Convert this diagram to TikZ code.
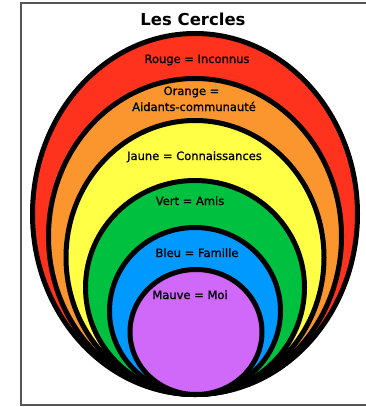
\documentclass[tikz,border=0pt]{standalone}
\usepackage{fontspec}
\setmainfont{DejaVu Sans}
\newfontfamily\lblfont[FakeBold=1.2]{DejaVu Sans}
\begin{document}
\begin{tikzpicture}[x=1pt,y=-1pt,
  ring/.style={draw=black,line width=5pt},
  lbl/.style={anchor=base,inner sep=0pt,font=\lblfont\fontsize{11.5}{13}\selectfont,text=black},
  ttl/.style={anchor=base,inner sep=0pt,font=\fontsize{16.5}{20}\selectfont\bfseries}]
\definecolor{cred}{RGB}{255,50,30}
\definecolor{corange}{RGB}{250,150,45}
\definecolor{cyellow}{RGB}{255,255,70}
\definecolor{cgreen}{RGB}{0,192,64}
\definecolor{cblue}{RGB}{0,153,255}
\definecolor{cmauve}{RGB}{208,104,250}
\definecolor{cframe}{RGB}{85,85,85}
\useasboundingbox (0,0) rectangle (366,407);
\fill[white] (0,0) rectangle (366,407);
\draw[cframe,line width=1.3pt] (375,3) -- (21,3) -- (21,405) -- (375,405);
\path[ring,fill=cred] (195,214) ellipse [x radius=162.5,y radius=180.5];
\path[ring,fill=corange] (195,236.5) ellipse [x radius=146.5,y radius=158];
\path[ring,fill=cyellow] (195,257.5) ellipse [x radius=129,y radius=137];
\path[ring,fill=cgreen] (195,287.5) ellipse [x radius=109.5,y radius=107];
\path[ring,fill=cblue] (195,311) ellipse [x radius=85.5,y radius=83.5];
\path[ring,fill=cmauve] (196,332) ellipse [x radius=66,y radius=62.5];
\node[ttl] (title) at (193,25) {Les Cercles};
\node[lbl] (rouge) at (197,63) {Rouge = Inconnus};
\node[lbl] (orange1) at (191.5,95) {Orange =};
\node[lbl] (orange2) at (194,111) {Aidants-communauté};
\node[lbl] (jaune) at (194.5,160) {Jaune = Connaissances};
\node[lbl] (vert) at (190,205) {Vert = Amis};
\node[lbl] (bleu) at (197,257) {Bleu = Famille};
\node[lbl] (mauve) at (190,299) {Mauve = Moi};
\end{tikzpicture}
\end{document}
